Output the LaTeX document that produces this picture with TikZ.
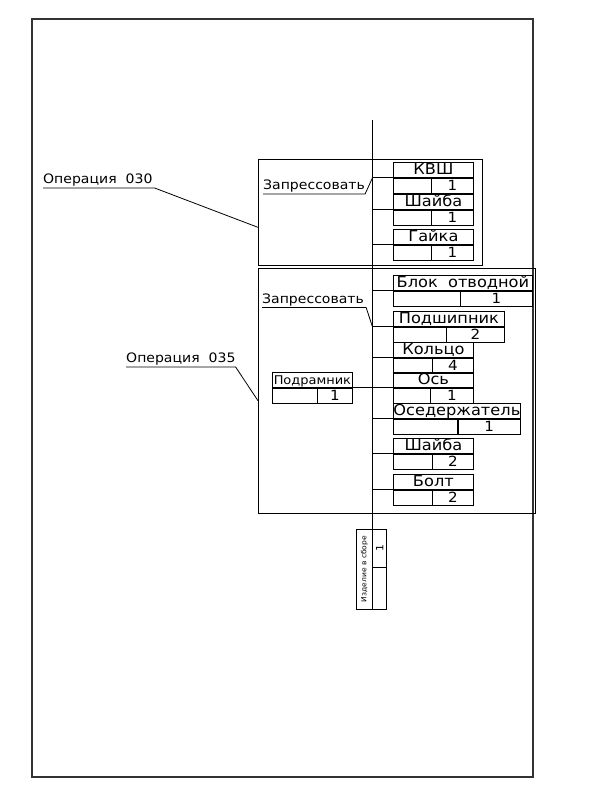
\documentclass[tikz,border=0pt]{standalone}
\usepackage{fontspec}
\newfontfamily\cadfont[FakeStretch=1.08]{DejaVu Sans}
\usepackage{tikz}
\usetikzlibrary{calc}

% cells of the assembly scheme
\tikzset{
  link/.style={line width=0.8pt},
  frame/.style={line width=1.2pt, black!80},
  opbox/.style={draw, line width=0.8pt, inner sep=0pt, anchor=north west},
  cell/.style={draw, line width=0.8pt, inner sep=0pt, minimum height=15pt,
    text height=10.5pt, text depth=0pt, font=\cadfont\fontsize{14}{14}\selectfont},
  namecell/.style={cell, text height=11pt, text depth=1pt, font=\cadfont\fontsize{15}{15}\selectfont},
  smallname/.style={font=\cadfont\fontsize{12}{12}\selectfont, text height=9.5pt},
  label/.style={inner xsep=0pt, inner ysep=1pt, text depth=3pt, anchor=south west,
    font=\cadfont\fontsize{13}{13}\selectfont},
}

% name row on top, count row below: [opt]{id}{top left}{width}{left cell}{name}{count}
\newcommand{\partbox}[7][]{%
  \node (#2) [namecell, minimum width=#4, anchor=north west, #1] at #3 {#6};
  \node (#2-e) [cell, minimum width=#5, anchor=north west] at (#2.south west) {};
  \node (#2-c) [cell, minimum width=#4-#5, anchor=north east] at (#2.south east) {#7};
}

\begin{document}
\begin{tikzpicture}[x=1pt,y=1pt,yscale=-1,xscale=1]
\useasboundingbox (0,0) rectangle (597,800);

%Frame
\draw [frame] (32,19) rectangle (533,777);

%Operation boxes
\node (op030) [opbox, minimum width=224pt, minimum height=106pt] at (258,159) {};
\node (op035) [opbox, minimum width=277pt, minimum height=245pt] at (258,268) {};

%Trunk
\coordinate (trunk) at (372.5,120);

%Parts of operation 030
\partbox{kvsh}{(393,162)}{80pt}{38pt}{КВШ}{1}
\partbox{washa}{(393,194)}{80pt}{38pt}{Шайба}{1}
\partbox{nut}{(393,229)}{80pt}{38pt}{Гайка}{1}

%Parts of operation 035
\partbox{block}{(393,275)}{139pt}{67pt}{Блок~~отводной}{1}
\partbox{bearing}{(393,311)}{111pt}{53pt}{Подшипник}{2}
\partbox{ring}{(393,342)}{80pt}{39pt}{Кольцо}{4}
\partbox{axle}{(393,372)}{80pt}{37pt}{Ось}{1}
\partbox{holder}{(393,403)}{126pt}{64pt}{Оседержатель}{1}
\partbox{washb}{(393,438)}{80pt}{39pt}{Шайба}{2}
\partbox{bolt}{(393,474)}{80pt}{39pt}{Болт}{2}
\partbox[smallname]{frame}{(272,372)}{80pt}{45pt}{Подрамник}{1}

%Assembled unit, turned
\node (asm) [cell, rotate=90, minimum width=80pt, minimum height=16pt, text height=5pt, text depth=1.5pt,
  font=\cadfont\fontsize{7}{7}\selectfont] at (364.5,569) {Изделие в сборе};
\node (asm-c) [cell, rotate=90, minimum width=38pt, minimum height=14pt, text height=7.5pt,
  font=\cadfont\fontsize{10}{10}\selectfont] at (379.5,548) {1};
\node (asm-e) [cell, rotate=90, minimum width=42pt, minimum height=14pt] at (379.5,588) {};

\draw [link] (trunk) -- (trunk |- asm.east);

%Links to the trunk
\draw [link] (trunk |- kvsh.south west) -- (kvsh.south west);
\draw [link] (trunk |- washa.south west) -- (washa.south west);
\draw [link] (trunk |- nut.south west) -- (nut.south west);
\draw [link] (trunk |- block.south west) -- (block.south west);
\draw [link] (trunk |- bearing.south west) -- (bearing.south west);
\draw [link] (trunk |- ring.south west) -- (ring.south west);
\draw [link] (trunk |- holder.south west) -- (holder.south west);
\draw [link] (trunk |- washb.south west) -- (washb.south west);
\draw [link] (trunk |- bolt.south west) -- (bolt.south west);
\draw [link] (frame.south east) -- (axle.south west);

% Text Node
\node (press030) [label] at (263,194) {Запрессовать};
\draw [link] (press030.south west) -- (press030.south east) -- (trunk |- kvsh.south west);
% Text Node
\node (press035) [label] at (262,307.5) {Запрессовать};
\draw [link] (press035.south west) -- ([xshift=2pt]press035.south east) -- (trunk |- bearing.south west);
% Text Node
\node (lbl030) [label] at (43,188) {Операция~~030};
\draw [link] (lbl030.south west) -- ([xshift=2pt]lbl030.south east) -- ($(op030.north west)!0.64!(op030.south west)$);
% Text Node
\node (lbl035) [label] at (126,367) {Операция~~035};
\draw [link] (lbl035.south west) -- (lbl035.south east) -- ($(op035.north west)!0.54!(op035.south west)$);

\end{tikzpicture}
\end{document}
